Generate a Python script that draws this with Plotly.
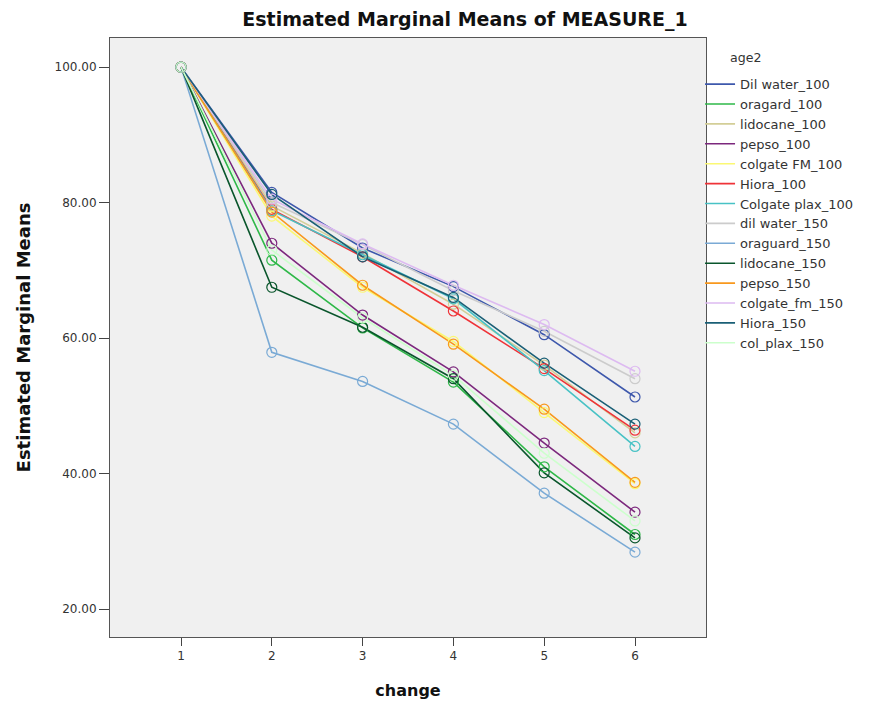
import plotly.graph_objects as go

change = [1, 2, 3, 4, 5, 6]

series_names = [
    "Dil water_100", "oragard_100", "lidocane_100", "pepso_100", "colgate FM_100",
    "Hiora_100", "Colgate plax_100", "dil water_150", "oraguard_150", "lidocane_150",
    "pepso_150", "colgate_fm_150", "Hiora_150", "col_plax_150",
]

dil_water_100 = [100, 81.5, 73.3, 67.6, 60.5, 51.3]
oragard_100 = [100, 71.5, 61.5, 53.5, 41.0, 31.0]
lidocane_100 = [100, 79.5, 72.5, 65.0, 56.0, 46.0]
pepso_100 = [100, 74.0, 63.4, 55.0, 44.5, 34.3]
colgate_fm_100 = [100, 78.0, 67.5, 59.5, 49.0, 38.5]
hiora_100 = [100, 79.0, 72.0, 64.0, 55.5, 46.4]
colgate_plax_100 = [100, 78.8, 72.3, 65.8, 55.2, 44.0]
dil_water_150 = [100, 80.0, 73.8, 67.0, 61.0, 54.0]
oraguard_150 = [100, 57.9, 53.6, 47.3, 37.1, 28.4]
lidocane_150 = [100, 67.5, 61.6, 54.0, 40.1, 30.5]
pepso_150 = [100, 78.6, 67.8, 59.1, 49.5, 38.7]
colgate_fm_150 = [100, 80.5, 73.9, 67.8, 62.0, 55.1]
hiora_150 = [100, 81.2, 72.0, 66.0, 56.3, 47.3]
col_plax_150 = [100, 73.0, 63.0, 54.5, 43.0, 33.0]

series_values = [
    dil_water_100, oragard_100, lidocane_100, pepso_100, colgate_fm_100,
    hiora_100, colgate_plax_100, dil_water_150, oraguard_150, lidocane_150,
    pepso_150, colgate_fm_150, hiora_150, col_plax_150,
]

colors = [
    "#3E58AC", "#2EB848", "#D3CE97", "#7C287D", "#FBF873", "#EF3338", "#48C2C5",
    "#CCCCCC", "#7AAAD5", "#0A562C", "#F8981D", "#DDBAF1", "#1A5F76", "#CCFFCC",
]

y_ticks = [20, 40, 60, 80, 100]
legend_title = "age2"

fig = go.Figure()
for name, vals, col in zip(series_names, series_values, colors):
    fig.add_trace(go.Scatter(
        x=change, y=vals, mode="lines", name=name,
        line=dict(color=col, width=1.6),
    ))
for name, vals, col in zip(series_names, series_values, colors):
    fig.add_trace(go.Scatter(
        x=change, y=vals, mode="markers", name=name, showlegend=False,
        marker=dict(symbol="circle-open", size=10, color=col, line=dict(width=1.2)),
    ))

font = "DejaVu Sans, Verdana, sans-serif"
fig.add_annotation(
    text=legend_title, xref="paper", yref="paper",
    x=(737 - 102) / 596, y=(629 - 50) / 599, xanchor="center", yanchor="middle",
    showarrow=False, font=dict(size=12.6, color="#333"),
)
fig.update_layout(
    width=877, height=710,
    margin=dict(l=102, r=179, t=30, b=81),
    paper_bgcolor="white",
    plot_bgcolor="#F0F0F0",
    font=dict(family=font, color="#222"),
    title=dict(
        text="<b>Estimated Marginal Means of MEASURE_1</b>",
        x=457 / 877, xanchor="center", y=1 - 11 / 710, yanchor="middle",
        font=dict(size=19, color="#111"),
    ),
    xaxis=dict(
        range=[0.218, 6.782], tickvals=change, ticktext=[str(c) for c in change],
        ticks="outside", ticklen=8, tickcolor="#444", showgrid=False, zeroline=False,
        showline=True, linecolor="#555", mirror=True, linewidth=1,
        tickfont=dict(size=12, color="#333"),
        title=dict(text="<b>change</b>", font=dict(size=16, color="#111"), standoff=22),
    ),
    yaxis=dict(
        range=[15.87, 104.3], tickvals=y_ticks, tickformat=".2f",
        ticks="outside", ticklen=10, tickcolor="#444", showgrid=False, zeroline=False,
        showline=True, linecolor="#555", mirror=True, linewidth=1,
        tickfont=dict(size=12, color="#333"),
        title=dict(text="<b>Estimated Marginal Means</b>", font=dict(size=18, color="#111"), standoff=19),
    ),
    legend=dict(
        x=0.99, xanchor="left", y=0.948, yanchor="top",
        font=dict(size=13, color="#333"), tracegroupgap=0,
        bgcolor="rgba(0,0,0,0)", itemwidth=30,
    ),
)

fig.write_html("out.html")
